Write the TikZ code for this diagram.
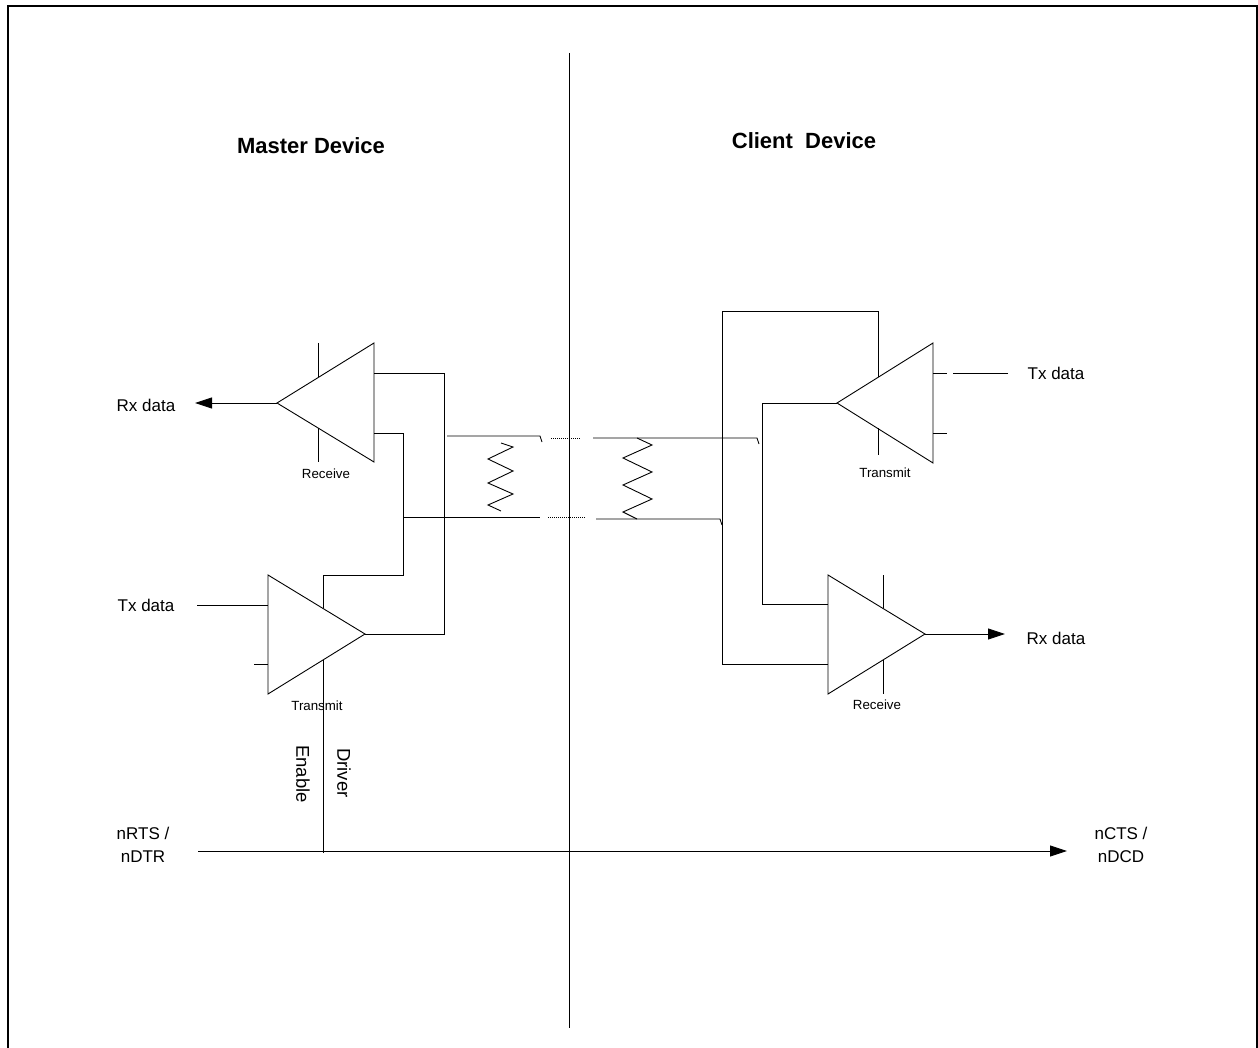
\documentclass[tikz,border=0pt]{standalone}
\usepackage{fontspec}
\setmainfont{Liberation Sans}
\usetikzlibrary{arrows.meta}

\begin{document}
\begin{tikzpicture}[x=1pt, y=-1pt, line width=0.9pt,
    lbl/.style={inner sep=0pt, font=\fontsize{17}{23}\selectfont, align=center},
    tag/.style={inner sep=0pt, font=\fontsize{13.3}{15}\selectfont},
    head/.style={inner sep=0pt, font=\fontsize{22}{26}\selectfont\bfseries},
    side/.style={inner sep=0pt, font=\fontsize{18.5}{22}\selectfont, rotate=-90},
    tip/.style={-{Triangle[length=17pt, width=11pt]}},
    cable/.style={densely dotted, line width=1pt}]

    \useasboundingbox (0,0) rectangle (1258,1048);

    % frame
    \draw[line width=2pt] (8,1048) -- (8,6) -- (1257,6) -- (1257,1048);

    % divider
    \draw (569,53) -- (569,1028);

    % headings
    \node[head] (master) at (311,146) {Master Device};
    \node[head] (client) at (804,141) {Client\ \ Device};

    % amplifier pins
    \coordinate (mrxo) at (277,403);
    \coordinate (mrxa) at (374,373);
    \coordinate (mrxb) at (374,433);
    \coordinate (mtxo) at (365,634);
    \coordinate (mtxa) at (268,605);
    \coordinate (mtxe) at (323,608);
    \coordinate (ctxo) at (837,403);
    \coordinate (ctxa) at (933,373);
    \coordinate (crxo) at (925,634);
    \coordinate (crxa) at (828,604);
    \coordinate (crxb) at (828,664);

    % amplifiers
    \draw (mrxo) -- (374,343) -- (374,462) -- cycle;
    \draw (mtxo) -- (268,575) -- (268,694) -- cycle;
    \draw (ctxo) -- (933,343) -- (933,463) -- cycle;
    \draw (crxo) -- (828,575) -- (828,694) -- cycle;

    % enable ticks
    \draw (318,343) -- (318,377) (318,428) -- (318,462);
    \draw (878,428) -- (878,455);
    \draw (883,575) -- (883,608) (883,660) -- (883,694);
    \draw (254,664) -- (268,664);
    \draw (933,433) -- (947,433);

    % outer labels
    \node[lbl] (mrxd) at (146,405) {Rx data};
    \node[lbl] (mtxd) at (146,605) {Tx data};
    \node[lbl] (ctxd) at (1056,373) {Tx data};
    \node[lbl] (crxd) at (1056,638) {Rx data};
    \coordinate (mrxe) at (195,403);
    \coordinate (mtxs) at (197,605);
    \coordinate (ctxs) at (1008,373);
    \coordinate (crxe) at (1005,634);

    \draw[tip] (mrxo) -- (mrxe);
    \draw (mtxs) -- (mtxa);
    \draw (ctxs) -- (953,373);
    \draw (ctxa) -- (947,373);
    \draw[tip] (crxo) -- (crxe);

    % master wiring
    \draw (mrxa) -- (444,373) -- (444,634) -- (mtxo);
    \draw (mrxb) -- (403,433) -- (403,575) -- (323,575) -- (mtxe);

    % client wiring
    \draw (ctxo) -- (762,403) -- (762,604) -- (crxa);
    \draw (crxb) -- (722,664) -- (722,311) -- (878,311) -- (878,377);

    % cable pair
    \draw (447,436) -- (540,436) -- (542,442);
    \draw[cable] (551,438) -- (580,438);
    \draw (593,438) -- (757,438) -- (759,444);
    \draw (403,517) -- (540,517);
    \draw[cable] (548,517) -- (586,517);
    \draw (596,519) -- (720,519) -- (722,525);

    % terminations
    \draw (501,443) -- (513,447) -- (488,459) -- (513,471) -- (488,483)
          -- (513,494) -- (488,505) -- (501,511);
    \draw (637,438) -- (652,445) -- (623,458) -- (652,472) -- (623,485)
          -- (652,499) -- (623,512) -- (637,519);

    % amplifier names
    \node[tag] (mrxn) at (326,474) {Receive};
    \node[tag] (mtxn) at (317,706) {Transmit};
    \node[tag] (ctxn) at (885,473) {Transmit};
    \node[tag] (crxn) at (877,705) {Receive};

    % handshake line
    \coordinate (busl) at (198,851);
    \coordinate (busr) at (1067,851);
    \coordinate (mtxf) at (323,660);
    \coordinate (busd) at (323,853);
    \draw[tip] (busl) -- (busr);
    \draw (mtxf) -- (busd);
    \node[lbl] (rts) at (143,845) {nRTS /\\nDTR};
    \node[lbl] (cts) at (1121,845) {nCTS /\\nDCD};
    \node[side] (enab) at (303,774) {Enable};
    \node[side] (drv) at (344,773) {Driver};

\end{tikzpicture}
\end{document}
